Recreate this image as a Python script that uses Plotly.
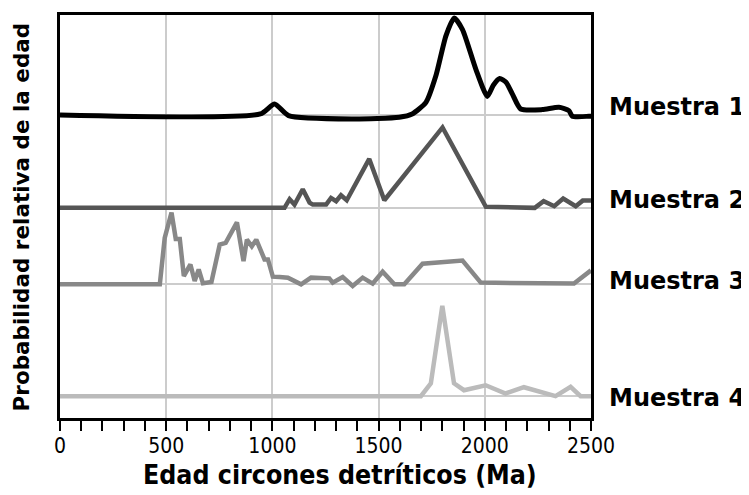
import plotly.graph_objects as go

# ---- data (age in Ma, relative probability height) ----
m1_age = [0, 943, 1010, 1076, 1379, 1597, 1658, 1723, 1770, 1817, 1856, 1895, 1958, 2012, 2040, 2070, 2100, 2130, 2169, 2271, 2349, 2396, 2412, 2490, 2500]
m1_val = [0, 1, 11, -0.6, -4, -2.3, 1, 12.7, 39.7, 79.7, 97.7, 86, 46, 18.7, 30, 36.7, 33, 21, 6, 5.4, 7.7, 4.4, -1.3, -1.3, -1.3]

m2_age = [0, 1057, 1081, 1104, 1143, 1175, 1190, 1253, 1276, 1300, 1323, 1350, 1456, 1527, 1801, 2005, 2235, 2277, 2327, 2369, 2428, 2461, 2487, 2500]
m2_val = [0, 0, 8.7, 3.3, 18.7, 5.3, 3.3, 3.3, 10, 6.7, 12.7, 7.7, 49.3, 7.7, 81, 1, 0, 6.7, 1.7, 9.3, 1.7, 7.3, 7.3, 7.3]

m3_age = [0, 470, 493, 525, 545, 564, 583, 614, 634, 653, 673, 713, 752, 780, 833, 864, 880, 903, 924, 963, 979, 1002, 1034, 1073, 1135, 1182, 1268, 1284, 1331, 1378, 1425, 1472, 1519, 1574, 1621, 1707, 1895, 1981, 2420, 2482, 2500]
m3_val = [0, 0, 46.7, 72.3, 45.7, 45.7, 8.3, 20, 3.3, 15, 1, 2.3, 40, 41.7, 62.3, 23.3, 45, 38.3, 45, 25, 25, 7.7, 7.3, 6.7, 0, 6.7, 6, 1.7, 7.3, -1.7, 6.7, 0.7, 12.7, 0, 0, 20.7, 24, 1.7, 0.7, 11.7, 14]

m4_age = [0, 1699, 1746, 1800, 1855, 1902, 2004, 2098, 2184, 2333, 2404, 2451, 2500]
m4_val = [0, 0, 13, 91, 13, 6, 11, 2.7, 9, 0, 9.3, 0, 0]

sample_names = ["Muestra 1", "Muestra 2", "Muestra 3", "Muestra 4"]
baselines = [305.3, 211.7, 134.7, 22]
label_y = [313, 220, 138, 20]
x_ticks = [0, 500, 1000, 1500, 2000, 2500]

series = [(m1_age, m1_val), (m2_age, m2_val), (m3_age, m3_val), (m4_age, m4_val)]
colors = ["#000000", "#555555", "#888888", "#bbbbbb"]
widths = [5, 4.5, 4.5, 4.5]
shapes_line = ["spline", "linear", "linear", "linear"]

fig = go.Figure()
for (ages, vals), base, col, w, sh, name in zip(series, baselines, colors, widths, shapes_line, sample_names):
    fig.add_trace(go.Scatter(
        x=ages, y=[base + v for v in vals], mode="lines", name=name,
        line=dict(color=col, width=w, shape=sh, smoothing=0.6),
        showlegend=False, hoverinfo="skip"))

cond = "DejaVu Sans Condensed, sans-serif"
bold = "DejaVu Sans, Verdana, sans-serif"

# page body has an 8px margin: figure is sized/offset to compensate
fig.update_layout(
    width=741, height=487,
    margin=dict(l=52, r=158, t=4, b=77),
    paper_bgcolor="white", plot_bgcolor="white",
    xaxis=dict(
        range=[0, 2500], tickvals=x_ticks, ticktext=[str(v) for v in x_ticks],
        showgrid=True, gridcolor="#cccccc", gridwidth=1.5,
        showline=True, linecolor="black", linewidth=2.5, mirror=True,
        ticks="outside", ticklen=10, tickwidth=2, tickcolor="black",
        ticklabelstandoff=-3,
        minor=dict(dtick=100, tick0=0, ticks="outside", ticklen=10, tickwidth=2, tickcolor="black", showgrid=False),
        tickfont=dict(family=cond, size=21, color="black"),
        zeroline=False,
    ),
    yaxis=dict(
        range=[0, 406], tickvals=baselines, showticklabels=False,
        showgrid=True, gridcolor="#cccccc", gridwidth=1.5,
        showline=True, linecolor="black", linewidth=2.5, mirror=True,
        ticks="", zeroline=False,
    ),
)

annotations = []
for name, ly in zip(sample_names, label_y):
    annotations.append(dict(
        x=1.03, xref="paper", y=ly, yref="y", text="<b>" + name + "</b>",
        showarrow=False, xanchor="left", yanchor="middle",
        font=dict(family=bold, size=24, color="black")))
annotations.append(dict(
    x=0.528, xref="paper", y=-0.14, yref="paper", text="<b>Edad circones detríticos (Ma)</b>",
    showarrow=False, xanchor="center", yanchor="middle",
    font=dict(family=cond, size=26.5, color="black")))
annotations.append(dict(
    x=-0.0716, xref="paper", y=0.5, yref="paper", text="<b>Probabilidad relativa de la edad</b>",
    showarrow=False, xanchor="center", yanchor="middle", textangle=-90,
    font=dict(family=bold, size=21.5, color="black")))
fig.update_layout(annotations=annotations)

fig.write_html("out.html")
